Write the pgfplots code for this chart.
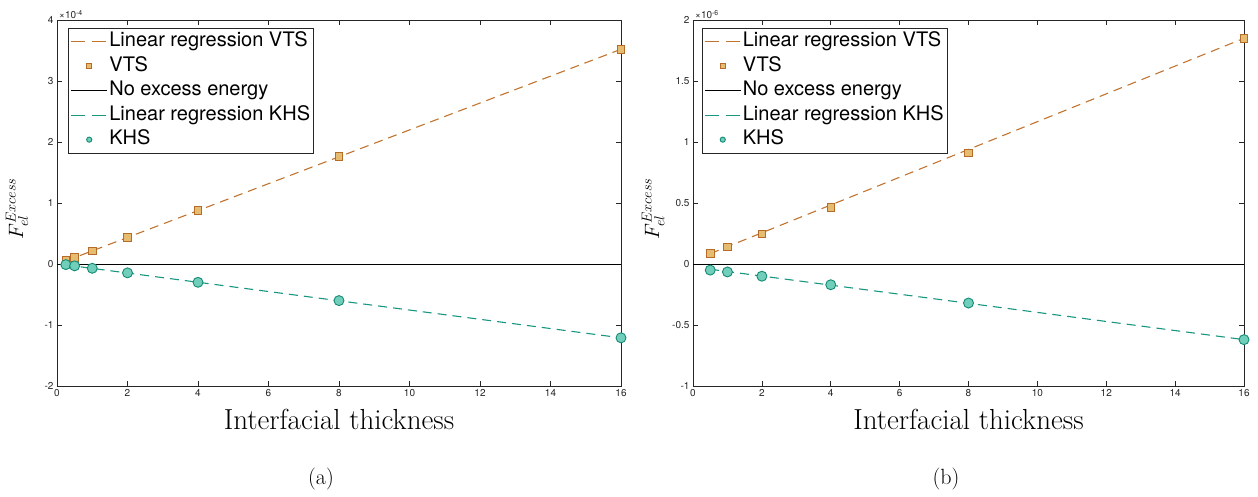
\documentclass[border=0pt]{standalone}
\usepackage{pgfplots}
\pgfplotsset{compat=1.18}
\usepackage{fontspec}
\setsansfont{TeX Gyre Heros}

\definecolor{vtsline}{RGB}{192,116,48}
\definecolor{vtsfill}{RGB}{230,188,112}
\definecolor{vtsedge}{RGB}{180,108,40}
\definecolor{khsline}{RGB}{24,150,128}
\definecolor{khsfill}{RGB}{112,206,186}
\definecolor{khsedge}{RGB}{20,138,116}
\definecolor{axgray}{gray}{0.15}

\pgfplotsset{
  linelegend/.style={legend image code/.code={\draw[#1, solid, line width=1pt] (0pt,0pt) -- (36pt,0pt);}},
  dashlegend/.style={legend image code/.code={\draw[#1, line width=1.2pt, dash pattern=on 14pt off 7pt] (0pt,0pt) -- (36pt,0pt);}},
  marklegend/.style={legend image code/.code={\draw[##1, mark size=2.6pt] plot coordinates {(18pt,0pt)};}},
  mfig/.style={
    scale only axis, height=366pt,
    xmin=0, xmax=16, xtick distance=2,
    tick align=inside, major tick length=5pt,
    axis line style={axgray, line width=0.7pt},
    every tick/.style={axgray, line width=0.7pt},
    /pgf/number format/assume math mode=true,
    ticklabel style={font=\fontsize{10}{12}\selectfont\sffamily, text=axgray},
    xlabel={Interfacial thickness},
    xlabel style={font=\fontsize{29}{33}\selectfont, yshift=-6pt},
    ylabel={$F_{el}^{Excess}$},
    ylabel style={font=\fontsize{22}{26}\selectfont, at={(axis description cs:-0.071,0.484)}, anchor=center},
    every y tick scale label/.style={at={(rel axis cs:0,1)}, anchor=south west, inner sep=1pt, xshift=1pt},
    ytick scale label code/.code={\fontsize{10}{11}\selectfont\sffamily\textcolor{axgray}{×10\textsuperscript{##1}}},
    legend cell align=left,
    legend style={draw=axgray, fill=white, line width=0.7pt, anchor=north west,
      font=\fontsize{20}{24}\selectfont\sffamily, inner sep=2pt,
      row sep=2pt,
      nodes={inner sep=1.5pt, text height=15pt, text depth=4.5pt}},
  },
}

\begin{document}
\begin{tikzpicture}
\useasboundingbox (0,0) rectangle (1258pt,496pt);

\begin{axis}[mfig, at={(57pt,110pt)}, anchor=south west, width=564pt,
  ymin=-2e-4, ymax=4e-4, ytick distance=1e-4, scaled y ticks=base 10:4,
  legend style={at={(axis description cs:0.02,0.978)}}]
\addplot[vtsline, line width=1.1pt, dash pattern=on 9pt off 6pt, dashlegend=vtsline]
  coordinates {(0.25,0.05e-4)(16,3.52e-4)};
\addlegendentry{Linear regression VTS}
\addplot[only marks, mark=square*, mark size=3.8pt, mark options={fill=vtsfill, draw=vtsedge, line width=0.9pt}, marklegend]
  coordinates {(0.25,0.055e-4)(0.5,0.11e-4)(1,0.215e-4)(2,0.44e-4)(4,0.88e-4)(8,1.76e-4)(16,3.52e-4)};
\addlegendentry{VTS}
\addplot[black, line width=1pt, linelegend=black] coordinates {(0,0)(16,0)};
\addlegendentry{No excess energy}
\addplot[khsline, line width=1.1pt, dash pattern=on 9pt off 6pt, dashlegend=khsline]
  coordinates {(0.25,-0.015e-4)(16,-1.21e-4)};
\addlegendentry{Linear regression KHS}
\addplot[only marks, mark=*, mark size=5pt, mark options={fill=khsfill, draw=khsedge, line width=0.9pt}, marklegend]
  coordinates {(0.25,-0.01e-4)(0.5,-0.03e-4)(1,-0.07e-4)(2,-0.145e-4)(4,-0.30e-4)(8,-0.60e-4)(16,-1.21e-4)};
\addlegendentry{KHS}
\end{axis}

\begin{axis}[mfig, at={(693pt,110pt)}, anchor=south west, width=551pt,
  ymin=-1e-6, ymax=2e-6, ytick distance=0.5e-6, scaled y ticks=base 10:6,
  ylabel style={at={(axis description cs:-0.0726,0.484)}},
  legend style={at={(axis description cs:0.016,0.978)}}]
\addplot[vtsline, line width=1.1pt, dash pattern=on 9pt off 6pt, dashlegend=vtsline]
  coordinates {(0.5,0.085e-6)(16,1.85e-6)};
\addlegendentry{Linear regression VTS}
\addplot[only marks, mark=square*, mark size=3.8pt, mark options={fill=vtsfill, draw=vtsedge, line width=0.9pt}, marklegend]
  coordinates {(0.5,0.085e-6)(1,0.14e-6)(2,0.245e-6)(4,0.465e-6)(8,0.91e-6)(16,1.85e-6)};
\addlegendentry{VTS}
\addplot[black, line width=1pt, linelegend=black] coordinates {(0,0)(16,0)};
\addlegendentry{No excess energy}
\addplot[khsline, line width=1.1pt, dash pattern=on 9pt off 6pt, dashlegend=khsline]
  coordinates {(0.5,-0.043e-6)(16,-0.62e-6)};
\addlegendentry{Linear regression KHS}
\addplot[only marks, mark=*, mark size=5pt, mark options={fill=khsfill, draw=khsedge, line width=0.9pt}, marklegend]
  coordinates {(0.5,-0.05e-6)(1,-0.065e-6)(2,-0.10e-6)(4,-0.17e-6)(8,-0.32e-6)(16,-0.62e-6)};
\addlegendentry{KHS}
\end{axis}

\node[font=\fontsize{22}{26}\selectfont] at (321pt,17pt) {(a)};
\node[font=\fontsize{22}{26}\selectfont] at (946pt,17pt) {(b)};
\end{tikzpicture}
\end{document}
